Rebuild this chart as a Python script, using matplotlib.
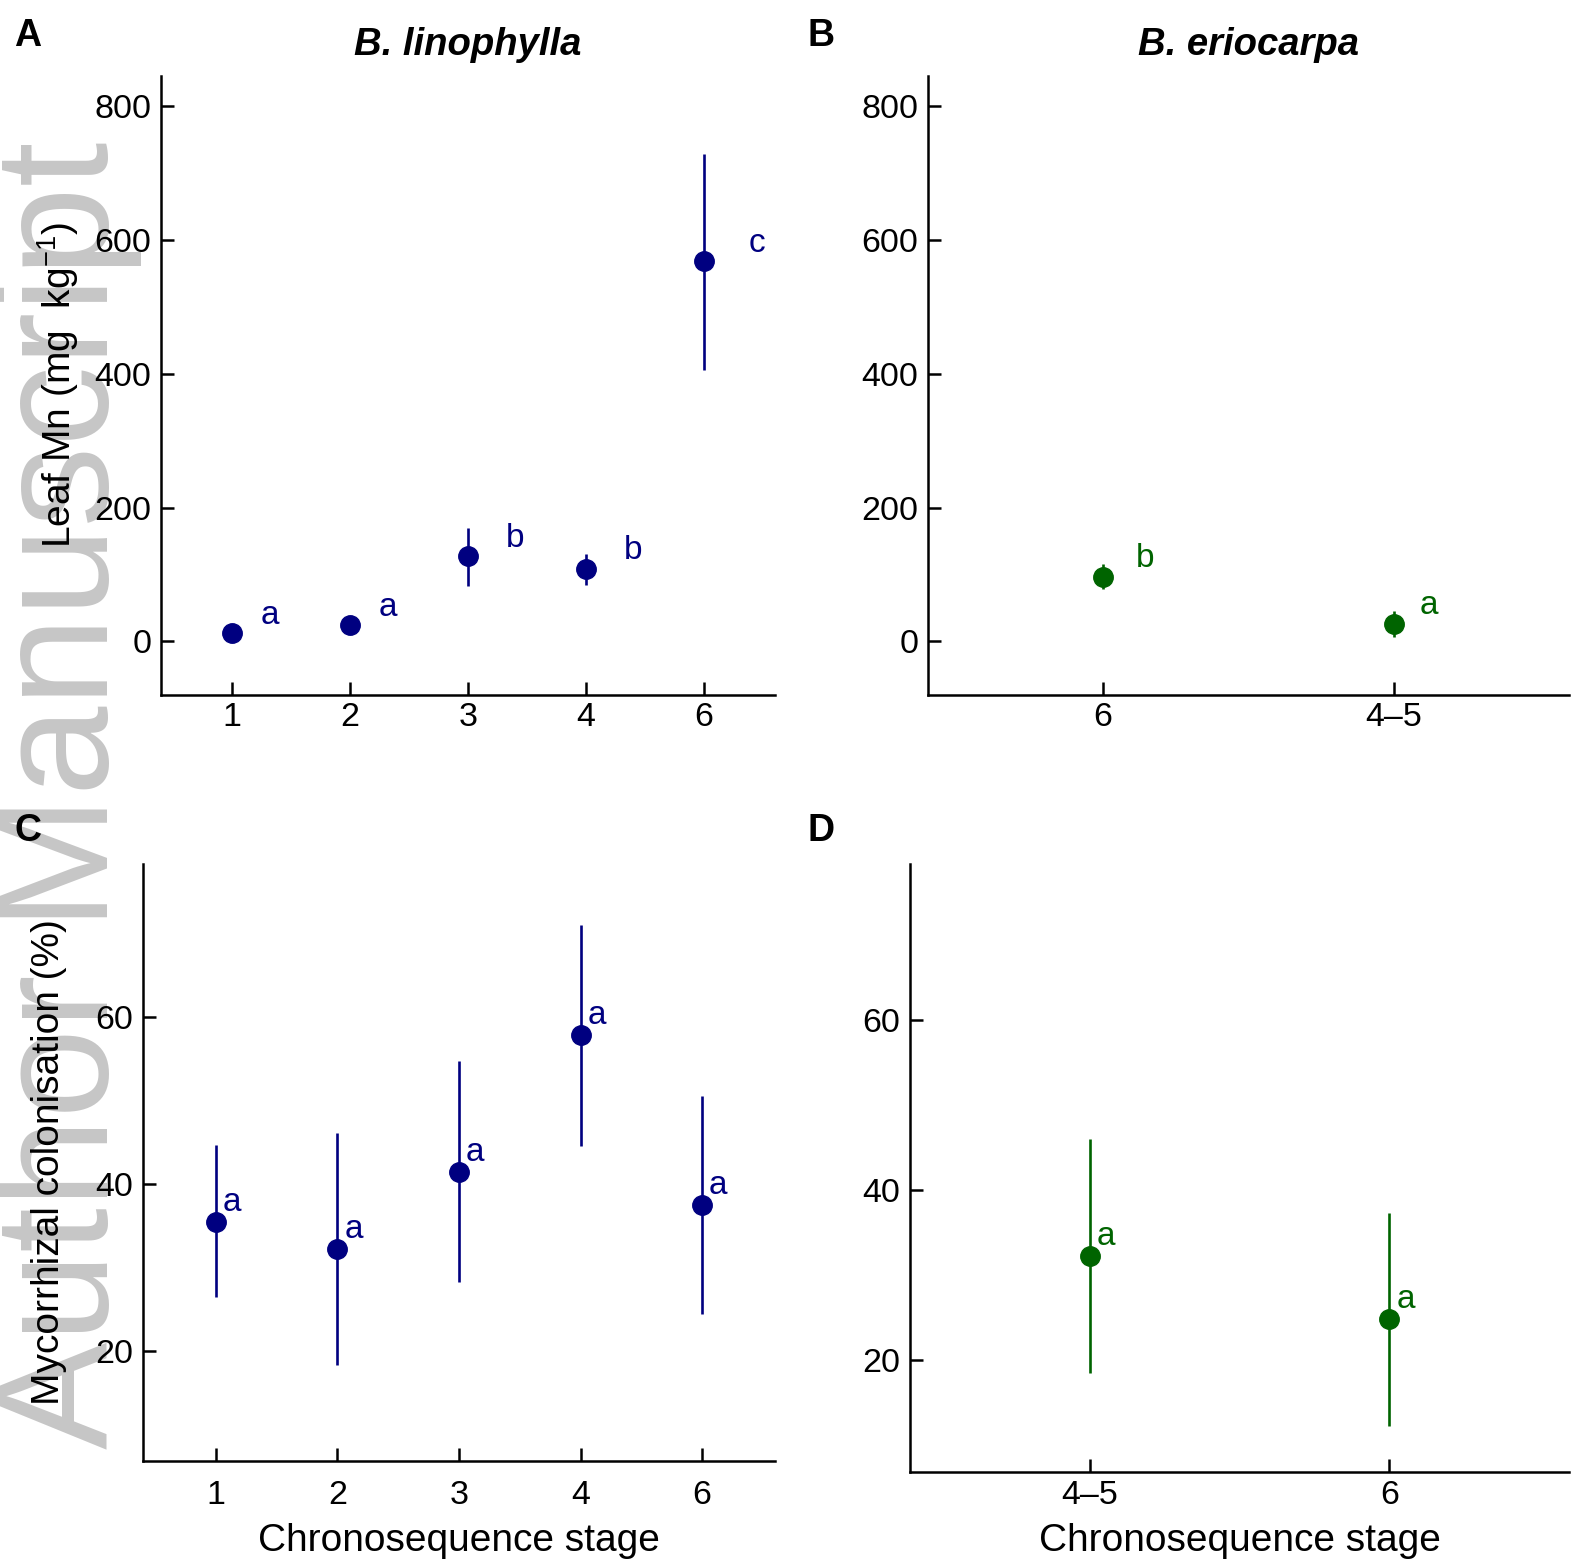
import matplotlib
matplotlib.use("Agg")
import matplotlib.pyplot as plt
import numpy as np

plt.rcParams['font.family'] = ['Liberation Sans', 'DejaVu Sans']
plt.rcParams['mathtext.fontset'] = 'custom'
plt.rcParams['mathtext.rm'] = 'Liberation Sans'
plt.rcParams['mathtext.it'] = 'Liberation Sans:italic'
plt.rcParams['mathtext.bf'] = 'Liberation Sans:bold'

BLUE = "#000080"
GREEN = "#006400"

# leaf Mn (mg/kg), mean with lower/upper interval
lino_stage = ["1", "2", "3", "4", "6"]
lino_mn = [12, 24, 127, 108, 568]
lino_mn_lo = [8, 19, 83, 84, 406]
lino_mn_hi = [16, 29, 170, 131, 729]
lino_mn_grp = ["a", "a", "b", "b", "c"]

erio_mn_stage = ["6", "4\u20135"]
erio_mn = [97, 26]
erio_mn_lo = [78, 6]
erio_mn_hi = [116, 45]
erio_mn_grp = ["b", "a"]

# mycorrhizal colonisation (%)
lino_myc = [35.4, 32.2, 41.4, 57.8, 37.5]
lino_myc_lo = [26.4, 18.3, 28.2, 44.5, 24.4]
lino_myc_hi = [44.6, 46.1, 54.7, 71.0, 50.5]
lino_myc_grp = ["a", "a", "a", "a", "a"]

erio_myc_stage = ["4\u20135", "6"]
erio_myc = [32.2, 24.8]
erio_myc_lo = [18.5, 12.2]
erio_myc_hi = [46.0, 37.3]
erio_myc_grp = ["a", "a"]

# horizontal nudge of the group letters (points)
lino_mn_dx = [21, 21, 27, 27, 32]
erio_mn_dx = [24, 18]

W, H = 1576, 1565
fig = plt.figure(figsize=(W / 100, H / 100), dpi=100)


def box(left, top, right, bottom):
    return [left / W, 1 - bottom / H, (right - left) / W, (bottom - top) / H]


def panel(ax, stages, mid, lo, hi, grp, color, dx, dy, ylim, yticks, pad=5):
    x = np.arange(1, len(stages) + 1)
    mid = np.asarray(mid, float)
    err = [mid - np.asarray(lo), np.asarray(hi) - mid]
    ax.errorbar(x, mid, yerr=err, fmt="o", color=color, ms=14,
                elinewidth=1.9, capsize=0, zorder=3)
    for xi, yi, g, ox in zip(x, mid, grp, dx):
        ax.annotate(g, (xi, yi), xytext=(ox, dy), textcoords="offset points",
                    ha="left", va="baseline", color=color, fontsize=24)
    ax.set_xlim(0.4, len(stages) + 0.6)
    ax.set_ylim(*ylim)
    ax.set_xticks(x)
    ax.set_xticklabels(stages)
    ax.set_yticks(yticks)
    for s in ("top", "right"):
        ax.spines[s].set_visible(False)
    for s in ("left", "bottom"):
        ax.spines[s].set_linewidth(1.8)
    ax.tick_params(direction="in", length=9.5, width=1.8, pad=7, labelsize=24.5)
    ax.tick_params(axis="x", pad=pad)
    ax.set_facecolor("none")


axA = fig.add_axes(box(161, 76, 775, 695))
axB = fig.add_axes(box(928, 76, 1569, 695))
axC = fig.add_axes(box(143, 864, 775, 1461))
axD = fig.add_axes(box(910, 864, 1569, 1472))

mn_lim = (-80, 845)
myc_lim = (6.8, 78.3)
panel(axA, lino_stage, lino_mn, lino_mn_lo, lino_mn_hi, lino_mn_grp, BLUE,
      lino_mn_dx, 7, mn_lim, [0, 200, 400, 600, 800])
panel(axB, erio_mn_stage, erio_mn, erio_mn_lo, erio_mn_hi, erio_mn_grp, GREEN,
      erio_mn_dx, 7, mn_lim, [0, 200, 400, 600, 800])
panel(axC, lino_stage, lino_myc, lino_myc_lo, lino_myc_hi, lino_myc_grp, BLUE,
      [5] * 5, 8, myc_lim, [20, 40, 60], pad=14)
panel(axD, erio_myc_stage, erio_myc, erio_myc_lo, erio_myc_hi, erio_myc_grp, GREEN,
      [5] * 2, 8, myc_lim, [20, 40, 60], pad=5.5)

axA.set_ylabel("Leaf Mn (mg  kg$^{-1}$)", fontsize=28)
axA.yaxis.set_label_coords(-0.13, 0.5)
axC.set_ylabel("Mycorrhizal colonisation (%)", fontsize=28)
axC.yaxis.set_label_coords(-0.121, 0.5)
axC.set_xlabel("Chronosequence stage", fontsize=28, labelpad=8)
axD.set_xlabel("Chronosequence stage", fontsize=28, labelpad=9)

# species titles and panel letters
fig.text(468 / W, 1 - 55 / H, "B. linophylla", ha="center", va="baseline",
         fontsize=27.5, fontweight="bold", style="italic")
fig.text(1248 / W, 1 - 55 / H, "B. eriocarpa", ha="center", va="baseline",
         fontsize=27.5, fontweight="bold", style="italic")
for lab, px, py in [("A", 14, 46), ("B", 808, 46), ("C", 14, 841), ("D", 808, 841)]:
    fig.text(px / W, 1 - py / H, lab, ha="left", va="baseline",
             fontsize=27, fontweight="bold")

# watermark along the left edge
fig.text(108 / W, 1 - 795 / H, "Author Manuscript", rotation=90,
         rotation_mode="anchor", ha="center", va="baseline",
         fontsize=116, color="#c6c6c6", zorder=-1)

fig.savefig("out.png", dpi=100)
